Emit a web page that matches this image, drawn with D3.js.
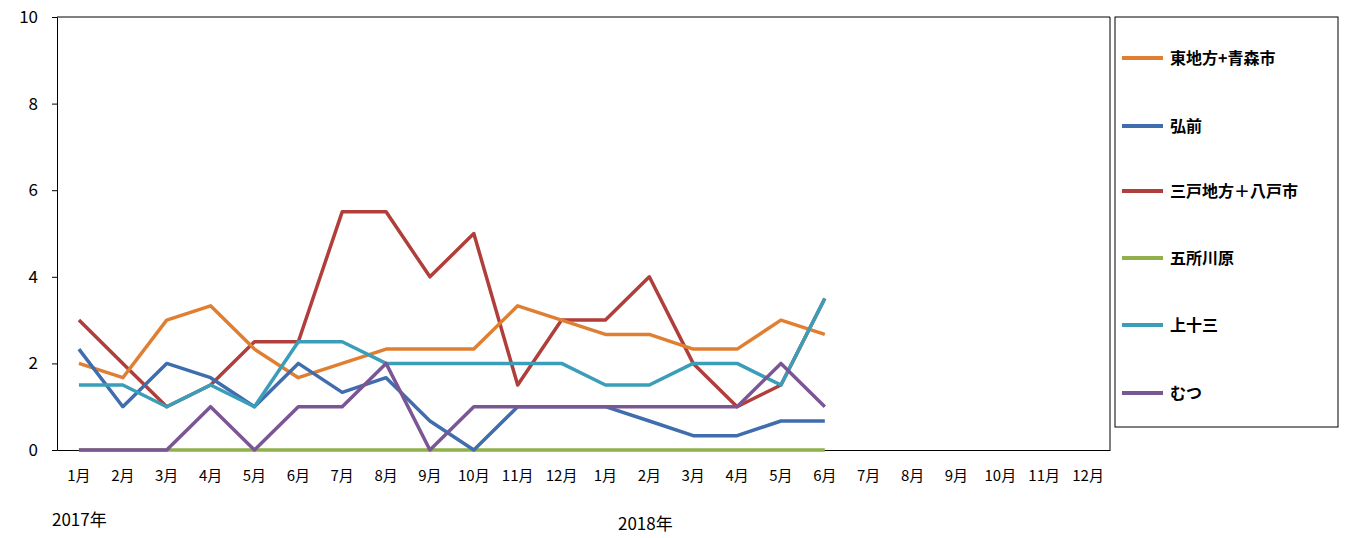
<!DOCTYPE html>
<html><head><meta charset="utf-8">
<script src="https://cdnjs.cloudflare.com/ajax/libs/d3/7.8.5/d3.min.js"></script>
<style>body{margin:0;background:#fff}text{font-family:"Noto Sans CJK JP","Noto Sans",sans-serif}</style>
</head><body><svg id="c" width="1348" height="538"></svg>
<script>
var months = ["1月","2月","3月","4月","5月","6月","7月","8月","9月","10月","11月","12月","1月","2月","3月","4月","5月","6月","7月","8月","9月","10月","11月","12月"];
var names = ["東地方+青森市","弘前","三戸地方＋八戸市","五所川原","上十三","むつ"];
var colors = ["#E07F32","#3F6DAE","#B03E3A","#8FB04A","#3B9EB8","#7B5694"];
var east = [2,1.67,3,3.33,2.33,1.67,2,2.33,2.33,2.33,3.33,3,2.67,2.67,2.33,2.33,3,2.67];
var hirosaki = [2.33,1,2,1.67,1,2,1.33,1.67,0.67,0,1,1,1,0.67,0.33,0.33,0.67,0.67];
var sannohe = [3,2,1,1.5,2.5,2.5,5.5,5.5,4,5,1.5,3,3,4,2,1,1.5,3.5];
var goshogawara = [0,0,0,0,0,0,0,0,0,0,0,0,0,0,0,0,0,0];
var kamitosa = [1.5,1.5,1,1.5,1,2.5,2.5,2,2,2,2,2,1.5,1.5,2,2,1.5,3.5];
var mutsu = [0,0,0,1,0,1,1,2,0,1,1,1,1,1,1,1,2,1];
var series = [east,hirosaki,sannohe,goshogawara,kamitosa,mutsu];
var yTicks = [0,2,4,6,8,10];

var svg = d3.select("#c");
var x = d3.scaleBand().domain(d3.range(24)).range([57,1110]);
var y = d3.scaleLinear().domain([0,10]).range([450,17]);

svg.append("g").attr("transform","translate(57,0)")
  .call(d3.axisLeft(y).tickValues(yTicks).tickSize(5).tickPadding(14))
  .call(g=>g.selectAll("text").style("font-size","17px").attr("fill","#000"));
svg.append("g").attr("transform","translate(0,450)")
  .call(d3.axisBottom(x).tickFormat(i=>months[i]).tickSize(0).tickPadding(20))
  .call(g=>g.selectAll("text").style("font-size","15px").attr("fill","#000"));
svg.selectAll(".domain").attr("stroke","#000");
svg.append("line").attr("x1",1110).attr("x2",1110).attr("y1",17).attr("y2",450).attr("stroke","#000");
svg.append("line").attr("x1",57).attr("x2",1110).attr("y1",17).attr("y2",17).attr("stroke","#000");
svg.append("text").attr("x",52).attr("y",526).style("font-size","17px").text("2017年");
svg.append("text").attr("x",618).attr("y",530).style("font-size","17px").text("2018年");

var line = d3.line().x((d,i)=>x(i)+x.bandwidth()/2).y(d=>y(d));
var order = [3,2,0,1,4,5];
order.forEach(k=>{
  svg.append("path").datum(series[k]).attr("d",line).attr("fill","none")
    .attr("stroke",colors[k]).attr("stroke-width",3.5).attr("stroke-linejoin","round");
});

svg.append("rect").attr("x",1115).attr("y",17).attr("width",223).attr("height",410).attr("fill","none").attr("stroke","#000");
var ly = [58,126,191,258,325,393];
names.forEach((n,i)=>{
  svg.append("line").attr("x1",1122).attr("x2",1163).attr("y1",ly[i]).attr("y2",ly[i]).attr("stroke",colors[i]).attr("stroke-width",4);
  svg.append("text").attr("x",1170).attr("y",ly[i]+6).style("font-size","16px").style("font-weight","bold").text(n);
});
</script></body></html>
